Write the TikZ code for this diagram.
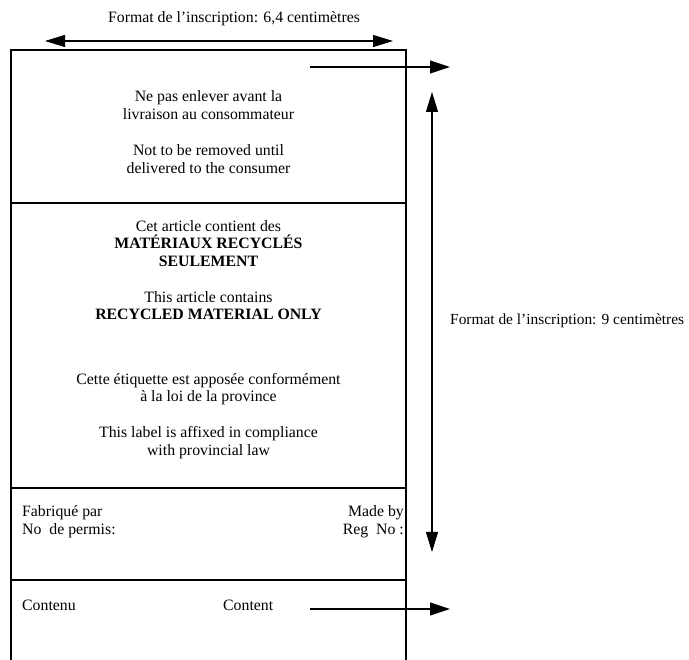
\documentclass[tikz,border=0pt]{standalone}
\usepackage{fontspec}
\setmainfont{Liberation Serif}
\usetikzlibrary{arrows.meta}

\tikzset{
  txt/.style={font=\fontsize{15.8}{17.5}\selectfont, align=center, inner sep=0pt},
  rule/.style={line width=1.1pt},
  dimline/.style={line width=1.1pt, -{Triangle[length=20pt,width=13pt]}},
  dimboth/.style={line width=1.1pt, {Triangle[length=20pt,width=12pt]}-{Triangle[length=20pt,width=12pt]}},
}

\begin{document}
\begin{tikzpicture}[x=1pt,y=-1pt]
    \useasboundingbox (0,0) rectangle (689,660);
    % outline of the label, open at the bottom
    \draw[rule] (11,660) -- (11,50) -- (406,50) -- (406,660);
    \foreach \y in {203,488,580} \draw[rule] (11,\y) -- (406,\y);

    % texts on the label
    \node[txt] (remove) at (208.5,105) {Ne pas enlever avant la\\livraison au consommateur};
    \node[txt] (removeen) at (208.5,159) {Not to be removed until\\delivered to the consumer};
    \node[txt] (recyc) at (208.5,243.5) {Cet article contient des\\\textbf{MATÉRIAUX RECYCLÉS}\\\textbf{SEULEMENT}};
    \node[txt] (recycen) at (208.5,305.5) {This article contains\\\textbf{RECYCLED MATERIAL ONLY}};
    \node[txt] (law) at (208.5,389) {Cette étiquette est apposée conformément\\à la loi de la province};
    \node[txt] (lawen) at (208.5,442.5) {This label is affixed in compliance\\with provincial law};
    \node[txt, align=left, anchor=west] (made) at (22,521.5) {Fabriqué par\\No\ \ de permis:};
    \node[txt, align=right, anchor=east] (madeen) at (404,521.5) {Made by\\Reg\ \ No :};
    \node[txt, anchor=west] (cont) at (22,605) {Contenu};
    \node[txt, anchor=west] (conten) at (223,605) {Content};

    % dimensions
    \node[txt] (width) at (234,19) {Format de l’inscription: 6,4 centimètres};
    \node[txt, font=\fontsize{15.4}{17.5}\selectfont, anchor=west] (height) at (450,321) {Format de l’inscription: 9 centimètres};
    \coordinate (wl) at (45,41);
    \coordinate (wr) at (393,41);
    \coordinate (ht) at (432,92);
    \coordinate (hb) at (432,552);
    \coordinate (topa) at (310,67);
    \coordinate (topb) at (450,67);
    \coordinate (bota) at (310,609);
    \coordinate (botb) at (450,609);
    \draw[dimboth] (wl) -- (wr);
    \draw[dimboth] (ht) -- (hb);
    \draw[dimline] (topa) -- (topb);
    \draw[dimline] (bota) -- (botb);
\end{tikzpicture}
\end{document}
